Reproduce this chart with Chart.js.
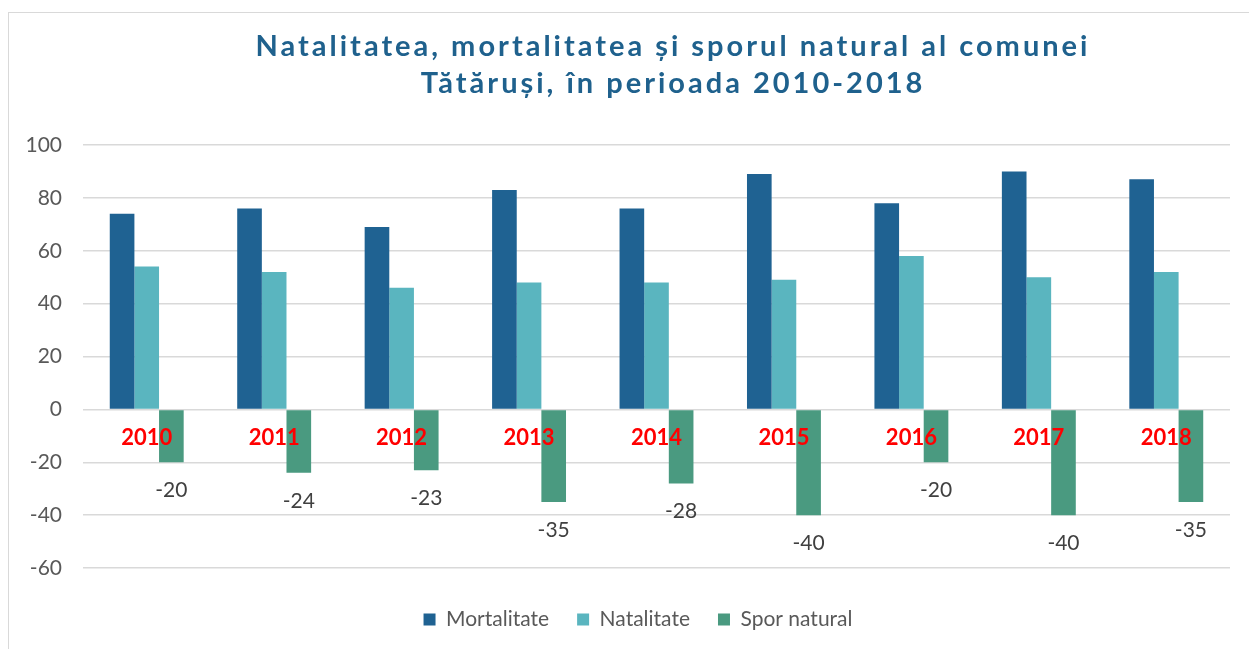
<!DOCTYPE html>
<html>
<head>
<meta charset="utf-8">
<script src="https://cdn.jsdelivr.net/npm/chart.js@4.4.0/dist/chart.umd.min.js"></script>
<style>
  html, body { margin: 0; padding: 0; background: #fff; }
  #frame { position: absolute; left: 8px; top: 12px; width: 1260px; height: 660px; border: 1px solid #d9d9d9; }
  #wrap { position: absolute; left: 0; top: 0; width: 1249px; height: 649px; }
</style>
</head>
<body>
<div id="frame"></div>
<div id="wrap"><canvas id="chart" width="1249" height="649"></canvas></div>
<script>
// date
const years = ["2010", "2011", "2012", "2013", "2014", "2015", "2016", "2017", "2018"];
const mortalitate = [74, 76, 69, 83, 76, 89, 78, 90, 87];
const natalitate = [54, 52, 46, 48, 48, 49, 58, 50, 52];
const sporNatural = [-20, -24, -23, -35, -28, -40, -20, -40, -35];
const titleLines = ["Natalitatea, mortalitatea și sporul natural al comunei", "Tătăruși, în perioada 2010-2018"];

// titlul (cu spatiere intre litere)
const titlePlugin = {
  id: "titlu",
  beforeDraw(chart) {
    const ctx = chart.ctx;
    ctx.save();
    ctx.font = "bold 29px Lato";
    ctx.letterSpacing = "3px";
    ctx.fillStyle = "#1F618D";
    ctx.textAlign = "center";
    ctx.textBaseline = "middle";
    ctx.fillText(titleLines[0], 673, 47);
    ctx.fillText(titleLines[1], 673, 84);
    ctx.restore();
  }
};

// legenda e putin mutata spre dreapta, ca in original
const legendShift = {
  id: "mutaLegenda",
  afterLayout(chart) {
    chart.legend.left += 10.5;
    chart.legend.right += 10.5;
  }
};

// anii (rosu) langa axa 0 si etichetele pentru spor natural
const labelsPlugin = {
  id: "etichete",
  afterDatasetsDraw(chart) {
    const ctx = chart.ctx;
    const x = chart.scales.x;
    const y = chart.scales.y;
    ctx.save();
    ctx.textAlign = "center";
    ctx.textBaseline = "middle";

    ctx.font = "21px Lato";
    ctx.fillStyle = "#404040";
    chart.getDatasetMeta(2).data.forEach(function (bar, i) {
      ctx.fillText(String(sporNatural[i]), bar.x, bar.y + 28);
    });

    ctx.font = "bold 22px Lato";
    ctx.fillStyle = "#FF0000";
    years.forEach(function (yr, i) {
      ctx.fillText(yr, x.getPixelForValue(i), y.getPixelForValue(0) + 29);
    });
    ctx.restore();
  }
};

new Chart(document.getElementById("chart"), {
  type: "bar",
  data: {
    labels: years,
    datasets: [
      { label: "Mortalitate", data: mortalitate, backgroundColor: "#1F6292" },
      { label: "Natalitate", data: natalitate, backgroundColor: "#5AB5BF" },
      { label: "Spor natural", data: sporNatural, backgroundColor: "#4A9A80" }
    ]
  },
  options: {
    responsive: false,
    animation: false,
    categoryPercentage: 0.58,
    barPercentage: 1.0,
    layout: { padding: { top: 145, left: 25, right: 19, bottom: 9 } },
    plugins: {
      title: { display: false },
      tooltip: { enabled: false },
      legend: {
        position: "bottom",
        labels: {
          boxWidth: 12,
          boxHeight: 12,
          padding: 28,
          color: "#595959",
          font: { family: "Lato", size: 21 }
        }
      }
    },
    scales: {
      x: {
        grid: { display: false },
        border: { display: false },
        ticks: { display: false },
        afterFit: function (s) { s.height = 13; }
      },
      y: {
        min: -60,
        max: 100,
        ticks: {
          stepSize: 20,
          padding: 21,
          color: "#595959",
          font: { family: "Lato", size: 21 }
        },
        grid: { color: "#d9d9d9", lineWidth: 1.5, drawTicks: false },
        border: { display: false },
        afterFit: function (s) { s.width = 58; }
      }
    }
  },
  plugins: [titlePlugin, legendShift, labelsPlugin]
});
</script>
</body>
</html>
